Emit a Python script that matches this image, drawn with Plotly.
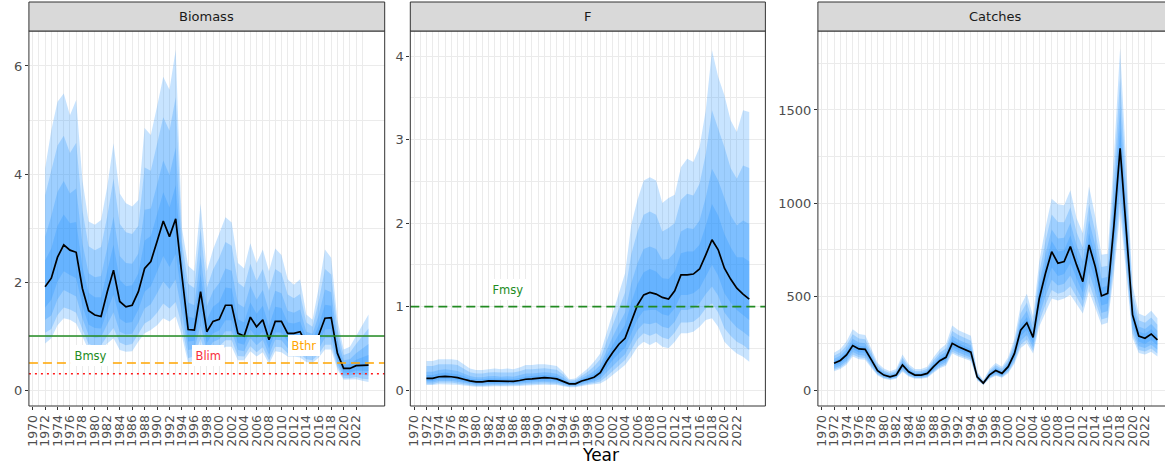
import plotly.graph_objects as go

years = list(range(1972, 2025))

# ---------------- Biomass ----------------
b_med = [1.91, 2.07, 2.46, 2.69, 2.59, 2.55, 1.88, 1.47, 1.39, 1.36,
         1.82, 2.22, 1.64, 1.54, 1.57, 1.82, 2.25, 2.38, 2.75, 3.13,
         2.84, 3.17, 2.12, 1.12, 1.11, 1.82, 1.08, 1.27, 1.31, 1.57,
         1.57, 1.05, 1.00, 1.35, 1.17, 1.30, 0.93, 1.27, 1.27, 1.05,
         1.05, 1.08, 0.85, 0.85, 1.02, 1.33, 1.34, 0.68, 0.40, 0.40,
         0.45, 0.46, 0.46]
b_hi1 = [4.10, 4.81, 5.34, 5.49, 5.09, 5.37, 3.89, 3.12, 3.06, 3.15,
         3.77, 4.57, 3.64, 3.46, 3.40, 3.52, 4.85, 4.72, 5.25, 5.80,
         5.56, 6.30, 3.00, 2.30, 2.20, 3.45, 2.20, 2.60, 2.90, 3.20,
         3.10, 2.35, 2.25, 2.72, 2.35, 2.60, 2.20, 2.62, 2.50, 2.05,
         1.95, 2.05, 1.40, 1.30, 1.90, 2.60, 2.45, 1.30, 0.75, 0.80,
         1.00, 1.20, 1.40]
b_hi2 = [3.60, 4.04, 4.53, 4.71, 4.39, 4.58, 3.33, 2.66, 2.59, 2.65,
         3.22, 3.91, 3.08, 2.92, 2.89, 3.04, 4.12, 4.06, 4.55, 5.05,
         4.80, 5.42, 2.75, 1.97, 1.89, 2.99, 1.89, 2.23, 2.45, 2.74,
         2.67, 1.99, 1.90, 2.34, 2.02, 2.24, 1.84, 2.24, 2.16, 1.77,
         1.70, 1.78, 1.25, 1.17, 1.65, 2.24, 2.14, 1.13, 0.65, 0.69,
         0.85, 0.99, 1.14]
b_hi3 = [2.84, 3.22, 3.67, 3.87, 3.64, 3.73, 2.72, 2.16, 2.09, 2.11,
         2.64, 3.21, 2.48, 2.35, 2.34, 2.53, 3.34, 3.36, 3.80, 4.25,
         3.98, 4.49, 2.49, 1.62, 1.57, 2.50, 1.55, 1.83, 1.98, 2.25,
         2.21, 1.60, 1.53, 1.93, 1.67, 1.85, 1.46, 1.84, 1.79, 1.47,
         1.43, 1.49, 1.08, 1.04, 1.39, 1.86, 1.81, 0.94, 0.55, 0.57,
         0.68, 0.77, 0.85]
b_hi4 = [2.40, 2.62, 3.04, 3.25, 3.09, 3.11, 2.28, 1.80, 1.72, 1.72,
         2.21, 2.69, 2.04, 1.92, 1.94, 2.16, 2.77, 2.85, 3.25, 3.66,
         3.38, 3.79, 2.30, 1.36, 1.33, 2.15, 1.30, 1.54, 1.63, 1.90,
         1.88, 1.31, 1.25, 1.62, 1.41, 1.56, 1.18, 1.54, 1.52, 1.25,
         1.23, 1.27, 0.96, 0.94, 1.20, 1.58, 1.56, 0.80, 0.47, 0.48,
         0.56, 0.61, 0.65]
b_lo4 = [1.53, 1.67, 2.01, 2.20, 2.13, 2.07, 1.56, 1.21, 1.15, 1.14,
         1.47, 1.77, 1.32, 1.24, 1.26, 1.49, 1.82, 1.92, 2.19, 2.48,
         2.28, 2.52, 1.72, 0.90, 0.91, 1.45, 0.87, 1.05, 1.10, 1.29,
         1.29, 0.87, 0.84, 1.12, 0.97, 1.08, 0.77, 1.07, 1.06, 0.90,
         0.90, 0.91, 0.73, 0.72, 0.87, 1.12, 1.13, 0.57, 0.32, 0.32,
         0.36, 0.36, 0.35]
b_lo3 = [1.30, 1.38, 1.68, 1.85, 1.79, 1.73, 1.33, 1.02, 0.97, 0.98,
         1.22, 1.44, 1.08, 1.03, 1.04, 1.25, 1.51, 1.59, 1.79, 2.01,
         1.87, 2.05, 1.43, 0.74, 0.76, 1.19, 0.72, 0.89, 0.94, 1.09,
         1.09, 0.74, 0.72, 0.96, 0.83, 0.93, 0.65, 0.93, 0.92, 0.78,
         0.78, 0.78, 0.65, 0.63, 0.76, 0.97, 0.97, 0.49, 0.27, 0.27,
         0.30, 0.28, 0.27]
b_lo2 = [1.06, 1.13, 1.39, 1.53, 1.49, 1.43, 1.12, 0.85, 0.81, 0.83,
         1.00, 1.15, 0.88, 0.83, 0.85, 1.04, 1.23, 1.30, 1.43, 1.60,
         1.51, 1.63, 1.17, 0.59, 0.63, 0.95, 0.59, 0.74, 0.81, 0.92,
         0.92, 0.63, 0.62, 0.81, 0.70, 0.79, 0.55, 0.80, 0.79, 0.68,
         0.68, 0.67, 0.57, 0.55, 0.66, 0.84, 0.84, 0.43, 0.22, 0.22,
         0.24, 0.21, 0.20]
b_lo1 = [0.86, 0.96, 1.20, 1.33, 1.30, 1.23, 0.99, 0.74, 0.71, 0.74,
         0.86, 0.96, 0.74, 0.71, 0.72, 0.90, 1.05, 1.11, 1.20, 1.33,
         1.27, 1.36, 1.00, 0.50, 0.55, 0.80, 0.50, 0.65, 0.72, 0.80,
         0.80, 0.55, 0.55, 0.72, 0.62, 0.70, 0.48, 0.72, 0.70, 0.62,
         0.62, 0.60, 0.52, 0.50, 0.60, 0.75, 0.75, 0.38, 0.19, 0.19,
         0.20, 0.17, 0.15]

# ---------------- F ----------------
f_med = [0.14, 0.14, 0.16, 0.165, 0.16, 0.15, 0.13, 0.11, 0.10, 0.10,
         0.11, 0.11, 0.105, 0.105, 0.105, 0.115, 0.13, 0.135, 0.145, 0.15,
         0.145, 0.135, 0.105, 0.075, 0.075, 0.11, 0.13, 0.155, 0.21, 0.34,
         0.45, 0.55, 0.62, 0.82, 1.02, 1.14, 1.17, 1.15, 1.11, 1.09,
         1.19, 1.38, 1.38, 1.39, 1.45, 1.62, 1.80, 1.68, 1.46, 1.33,
         1.22, 1.15, 1.09]
f_hi1 = [0.35, 0.35, 0.37, 0.37, 0.37, 0.36, 0.31, 0.26, 0.24, 0.24,
         0.25, 0.26, 0.25, 0.26, 0.25, 0.27, 0.30, 0.30, 0.31, 0.31,
         0.30, 0.29, 0.22, 0.13, 0.14, 0.20, 0.26, 0.34, 0.44, 0.68,
         0.92, 1.14, 1.40, 1.98, 2.28, 2.51, 2.55, 2.51, 2.24, 2.30,
         2.34, 2.67, 2.77, 2.73, 2.91, 3.35, 4.07, 3.75, 3.53, 3.23,
         3.09, 3.35, 3.33]
f_hi2 = [0.29, 0.29, 0.31, 0.31, 0.31, 0.30, 0.26, 0.215, 0.20, 0.20,
         0.21, 0.215, 0.21, 0.21, 0.21, 0.225, 0.25, 0.25, 0.26, 0.262,
         0.254, 0.244, 0.186, 0.114, 0.12, 0.173, 0.22, 0.285, 0.37, 0.58,
         0.78, 0.96, 1.17, 1.63, 1.90, 2.10, 2.14, 2.10, 1.90, 1.94,
         2.00, 2.28, 2.35, 2.33, 2.47, 2.83, 3.35, 3.13, 2.91, 2.66,
         2.53, 2.69, 2.66]
f_hi3 = [0.22, 0.22, 0.24, 0.25, 0.24, 0.23, 0.20, 0.17, 0.155, 0.155,
         0.165, 0.17, 0.16, 0.167, 0.16, 0.177, 0.198, 0.20, 0.21, 0.214,
         0.207, 0.197, 0.151, 0.097, 0.10, 0.146, 0.18, 0.23, 0.30, 0.48,
         0.64, 0.79, 0.93, 1.28, 1.52, 1.69, 1.72, 1.69, 1.56, 1.57,
         1.65, 1.90, 1.94, 1.93, 2.03, 2.31, 2.65, 2.51, 2.29, 2.09,
         1.97, 2.03, 1.99]
f_hi4 = [0.18, 0.18, 0.20, 0.21, 0.20, 0.19, 0.17, 0.14, 0.13, 0.13,
         0.14, 0.14, 0.134, 0.136, 0.134, 0.146, 0.164, 0.168, 0.178, 0.182,
         0.176, 0.166, 0.128, 0.086, 0.088, 0.128, 0.156, 0.19, 0.256, 0.41,
         0.54, 0.67, 0.78, 1.05, 1.27, 1.41, 1.45, 1.42, 1.34, 1.33,
         1.42, 1.64, 1.66, 1.66, 1.74, 1.97, 2.23, 2.09, 1.87, 1.71,
         1.59, 1.59, 1.54]
f_lo4 = [0.11, 0.11, 0.13, 0.13, 0.13, 0.12, 0.10, 0.088, 0.08, 0.08,
         0.088, 0.088, 0.085, 0.085, 0.085, 0.093, 0.105, 0.11, 0.116, 0.12,
         0.116, 0.11, 0.085, 0.061, 0.061, 0.09, 0.106, 0.126, 0.166, 0.27,
         0.36, 0.44, 0.51, 0.68, 0.85, 0.95, 0.96, 0.96, 0.91, 0.89,
         0.98, 1.14, 1.14, 1.16, 1.22, 1.36, 1.50, 1.37, 1.16, 1.05,
         0.96, 0.90, 0.84]
f_lo3 = [0.09, 0.09, 0.11, 0.11, 0.11, 0.10, 0.085, 0.07, 0.064, 0.064,
         0.07, 0.07, 0.069, 0.069, 0.069, 0.076, 0.085, 0.09, 0.094, 0.099,
         0.094, 0.09, 0.069, 0.051, 0.051, 0.074, 0.088, 0.104, 0.132, 0.21,
         0.29, 0.36, 0.43, 0.57, 0.72, 0.80, 0.79, 0.81, 0.76, 0.74,
         0.82, 0.96, 0.96, 0.98, 1.04, 1.15, 1.24, 1.13, 0.93, 0.83,
         0.75, 0.70, 0.64]
f_lo2 = [0.07, 0.07, 0.09, 0.09, 0.09, 0.08, 0.07, 0.057, 0.05, 0.05,
         0.057, 0.057, 0.056, 0.056, 0.056, 0.062, 0.068, 0.073, 0.075, 0.08,
         0.075, 0.073, 0.056, 0.042, 0.042, 0.061, 0.073, 0.085, 0.103, 0.16,
         0.23, 0.30, 0.36, 0.48, 0.61, 0.68, 0.65, 0.68, 0.63, 0.61,
         0.69, 0.81, 0.81, 0.82, 0.88, 0.98, 1.04, 0.93, 0.74, 0.65,
         0.58, 0.54, 0.48]
f_lo1 = [0.06, 0.06, 0.07, 0.07, 0.07, 0.065, 0.055, 0.045, 0.04, 0.04,
         0.045, 0.045, 0.045, 0.045, 0.045, 0.05, 0.055, 0.06, 0.06, 0.065,
         0.06, 0.06, 0.045, 0.035, 0.035, 0.05, 0.06, 0.07, 0.08, 0.12,
         0.18, 0.24, 0.30, 0.40, 0.52, 0.58, 0.54, 0.58, 0.52, 0.50,
         0.58, 0.68, 0.68, 0.70, 0.76, 0.84, 0.86, 0.76, 0.58, 0.50,
         0.44, 0.40, 0.34]

# ---------------- Catches ----------------
c_med = [143, 158, 188, 238, 220, 218, 161, 104, 80, 71,
         80, 134, 98, 80, 80, 89, 125, 157, 175, 250,
         232, 218, 203, 71, 37, 81, 104, 89, 125, 195,
         320, 360, 282, 490, 625, 741, 679, 688, 768, 670,
         580, 777, 661, 504, 518, 880, 1295, 850, 402, 289,
         277, 300, 268]
c_hi1 = [200, 220, 260, 325, 300, 295, 220, 145, 115, 100,
         112, 190, 138, 112, 112, 125, 175, 218, 245, 345,
         320, 305, 290, 100, 52, 113, 145, 125, 175, 275,
         450, 515, 395, 690, 870, 1025, 995, 990, 1070, 920,
         840, 1090, 930, 725, 730, 1250, 1830, 1200, 560, 410,
         395, 425, 385]
c_hi2 = [183, 201, 238, 299, 276, 272, 202, 133, 105, 91,
         102, 173, 126, 102, 102, 114, 160, 200, 224, 316,
         294, 279, 264, 91, 48, 103, 133, 114, 160, 251,
         411, 469, 361, 630, 797, 940, 900, 899, 979, 845,
         762, 996, 849, 659, 666, 1139, 1670, 1095, 513, 374,
         360, 388, 350]
c_hi3 = [167, 184, 218, 275, 254, 250, 186, 121, 95, 83,
         93, 158, 115, 93, 93, 104, 146, 183, 204, 290,
         269, 255, 240, 83, 43, 94, 121, 104, 146, 229,
         375, 425, 328, 574, 728, 860, 812, 815, 895, 775,
         689, 908, 774, 597, 607, 1035, 1520, 997, 468, 340,
         327, 353, 317]
c_hi4 = [154, 170, 202, 255, 236, 233, 173, 112, 87, 77,
         86, 145, 106, 86, 86, 96, 135, 169, 189, 269,
         250, 235, 220, 77, 40, 87, 112, 96, 135, 211,
         346, 391, 303, 530, 674, 798, 742, 748, 828, 720,
         632, 840, 715, 548, 560, 954, 1400, 920, 434, 313,
         301, 325, 291]
c_lo4 = [128, 142, 170, 218, 201, 199, 146, 95, 73, 65,
         73, 122, 89, 73, 73, 81, 114, 143, 160, 231,
         214, 201, 187, 65, 34, 74, 94, 81, 113, 176,
         288, 323, 251, 439, 555, 656, 611, 621, 680, 599,
         522, 693, 586, 452, 464, 792, 1178, 768, 361, 258,
         247, 268, 238]
c_lo3 = [117, 130, 156, 203, 187, 184, 135, 88, 68, 61,
         68, 112, 82, 68, 68, 75, 105, 132, 148, 217,
         201, 188, 174, 60, 31, 68, 87, 75, 104, 162,
         263, 294, 229, 400, 502, 590, 560, 569, 613, 544,
         478, 629, 528, 412, 423, 724, 1088, 706, 329, 234,
         225, 243, 215]
c_lo2 = [108, 120, 145, 190, 175, 172, 126, 83, 64, 57,
         64, 104, 77, 64, 64, 70, 98, 123, 138, 205,
         189, 177, 164, 55, 29, 64, 81, 69, 96, 150,
         242, 270, 210, 367, 457, 535, 516, 526, 556, 498,
         441, 574, 480, 378, 388, 667, 1012, 653, 302, 214,
         206, 222, 196]
c_lo1 = [100, 112, 135, 180, 165, 162, 118, 78, 60, 54,
         60, 98, 72, 60, 60, 66, 92, 116, 130, 195,
         180, 168, 155, 52, 27, 60, 76, 65, 90, 140,
         225, 250, 195, 340, 420, 490, 480, 490, 510, 460,
         410, 530, 440, 350, 360, 620, 950, 610, 280, 198,
         190, 205, 180]

panel_titles = ["Biomass", "F", "Catches"]
ref_labels = ["Bmsy", "Blim", "Bthr", "Fmsy"]
ref_values = [1.0, 0.3, 0.5, 1.0]
x_tick_years = list(range(1970, 2023, 2))
x_minor_years = list(range(1971, 2024, 2))

# ---------------- Styling ----------------
W, H = 1165, 467
FONT = "DejaVu Sans"
BAND = "rgba(30,144,255,0.245)"
GRID = "#EBEBEB"
BORDER = "#333333"
TICKTXT = "#4D4D4D"


def px_x(p):
    return p / W


def px_y(p):
    return (H - p) / H


panels_px = [(25, 382), (407.7, 764), (816.7, 1173)]
y_top, y_bot = 31, 406
x_ranges = [[1969.4, 2026.6], [1969.4, 2026.6],
            [1969.4, 1969.4 + (1165 - 816.7) / 6.24]]

fig = go.Figure()

datasets = [
    (b_med, [(b_lo1, b_hi1), (b_lo2, b_hi2), (b_lo3, b_hi3), (b_lo4, b_hi4)]),
    (f_med, [(f_lo1, f_hi1), (f_lo2, f_hi2), (f_lo3, f_hi3), (f_lo4, f_hi4)]),
    (c_med, [(c_lo1, c_hi1), (c_lo2, c_hi2), (c_lo3, c_hi3), (c_lo4, c_hi4)]),
]

for i, (med, bands) in enumerate(datasets):
    xa = "x" if i == 0 else f"x{i+1}"
    ya = "y" if i == 0 else f"y{i+1}"
    for lo, hi in bands:
        fig.add_trace(go.Scatter(x=years, y=lo, mode="lines", line=dict(width=0),
                                 xaxis=xa, yaxis=ya, showlegend=False, hoverinfo="skip"))
        fig.add_trace(go.Scatter(x=years, y=hi, mode="lines", line=dict(width=0),
                                 fill="tonexty", fillcolor=BAND,
                                 xaxis=xa, yaxis=ya, showlegend=False, hoverinfo="skip"))
    fig.add_trace(go.Scatter(x=years, y=med, mode="lines",
                             line=dict(color="black", width=1.7),
                             xaxis=xa, yaxis=ya, showlegend=False, hoverinfo="skip"))

y_specs = [
    dict(range=[-0.296, 6.648], tickvals=[0, 2, 4, 6], minor=[1, 3, 5]),
    dict(range=[-0.19, 4.30], tickvals=[0, 1, 2, 3, 4], minor=[0.5, 1.5, 2.5, 3.5]),
    dict(range=[-85.7, 1923], tickvals=[0, 500, 1000, 1500], minor=[250, 750, 1250, 1750]),
]

layout = dict(
    width=W, height=H, autosize=False,
    margin=dict(l=0, r=0, t=0, b=0),
    paper_bgcolor="white", plot_bgcolor="white",
    font=dict(family=FONT, color=TICKTXT),
    hovermode=False,
)

for i in range(3):
    xk = "xaxis" if i == 0 else f"xaxis{i+1}"
    yk = "yaxis" if i == 0 else f"yaxis{i+1}"
    ya_id = "y" if i == 0 else f"y{i+1}"
    xa_id = "x" if i == 0 else f"x{i+1}"
    x0p, x1p = panels_px[i]
    layout[xk] = dict(
        domain=[px_x(x0p), min(px_x(x1p), 1.0)],
        range=x_ranges[i], anchor=ya_id,
        tickmode="array", tickvals=x_tick_years,
        ticktext=[str(v) for v in x_tick_years],
        tickangle=-90, ticks="outside", ticklen=3, tickwidth=1, tickcolor=BORDER,
        tickfont=dict(family=FONT, size=12.5, color=TICKTXT),
        showgrid=True, gridcolor=GRID, gridwidth=1.1,
        minor=dict(tickmode="array", tickvals=x_minor_years, showgrid=True,
                   gridcolor=GRID, gridwidth=0.55, ticks=""),
        zeroline=False, showline=False, fixedrange=True,
    )
    s = y_specs[i]
    layout[yk] = dict(
        domain=[px_y(y_bot), px_y(y_top)],
        range=s["range"], anchor=xa_id,
        tickmode="array", tickvals=s["tickvals"],
        ticks="outside", ticklen=3, tickwidth=1, tickcolor=BORDER,
        tickfont=dict(family=FONT, size=13, color=TICKTXT),
        showgrid=True, gridcolor=GRID, gridwidth=1.1,
        minor=dict(tickmode="array", tickvals=s["minor"], showgrid=True,
                   gridcolor=GRID, gridwidth=0.55, ticks=""),
        zeroline=False, showline=False, fixedrange=True,
    )

shapes = []
annotations = []

# reference lines
shapes.append(dict(type="line", xref="x domain", yref="y", x0=0, x1=1,
                   y0=ref_values[0], y1=ref_values[0],
                   line=dict(color="#228B22", width=1.6), layer="above"))
shapes.append(dict(type="line", xref="x domain", yref="y", x0=0, x1=1,
                   y0=ref_values[2], y1=ref_values[2],
                   line=dict(color="#FFA500", width=1.6, dash="9px,5px"), layer="above"))
shapes.append(dict(type="line", xref="x domain", yref="y", x0=0, x1=1,
                   y0=ref_values[1], y1=ref_values[1],
                   line=dict(color="#FF1A1A", width=1.6, dash="2px,4px"), layer="above"))
shapes.append(dict(type="line", xref="x2 domain", yref="y2", x0=0, x1=1,
                   y0=ref_values[3], y1=ref_values[3],
                   line=dict(color="#228B22", width=1.6, dash="9px,5px"), layer="above"))

# panel borders and strips
for i in range(3):
    x0p, x1p = panels_px[i]
    shapes.append(dict(type="rect", xref="paper", yref="paper",
                       x0=px_x(x0p), x1=px_x(x1p), y0=px_y(y_bot), y1=px_y(y_top),
                       line=dict(color=BORDER, width=1), fillcolor="rgba(0,0,0,0)",
                       layer="above"))
    shapes.append(dict(type="rect", xref="paper", yref="paper",
                       x0=px_x(x0p), x1=px_x(x1p), y0=px_y(y_top), y1=px_y(2),
                       line=dict(color=BORDER, width=1), fillcolor="#D9D9D9",
                       layer="above"))
    annotations.append(dict(xref="paper", yref="paper",
                            x=px_x((x0p + x1p) / 2),
                            y=px_y(16.5), text=panel_titles[i], showarrow=False,
                            font=dict(family=FONT, size=13, color="#1A1A1A"),
                            xanchor="center", yanchor="middle"))

# reference labels
label_specs = [
    ("x", "y", 1979.3, 0.63, ref_labels[0], "#228B22"),
    ("x", "y", 1998.2, 0.63, ref_labels[1], "#F8303C"),
    ("x", "y", 2013.7, 0.82, ref_labels[2], "#FFA500"),
    ("x2", "y2", 1985.2, 1.21, ref_labels[3], "#228B22"),
]
for xr, yr, xv, yv, txt, col in label_specs:
    annotations.append(dict(xref=xr, yref=yr, x=xv, y=yv, text=txt, showarrow=False,
                            font=dict(family=FONT, size=11.5, color=col),
                            bgcolor="white", borderpad=3.5, borderwidth=0,
                            xanchor="center", yanchor="middle"))

annotations.append(dict(xref="paper", yref="paper", x=px_x(599), y=px_y(455),
                        text="Year", showarrow=False,
                        font=dict(family=FONT, size=17, color="black"),
                        xanchor="center", yanchor="middle"))

layout["shapes"] = shapes
layout["annotations"] = annotations
fig.update_layout(**layout)

fig.write_html("out.html", config=dict(displayModeBar=False))
